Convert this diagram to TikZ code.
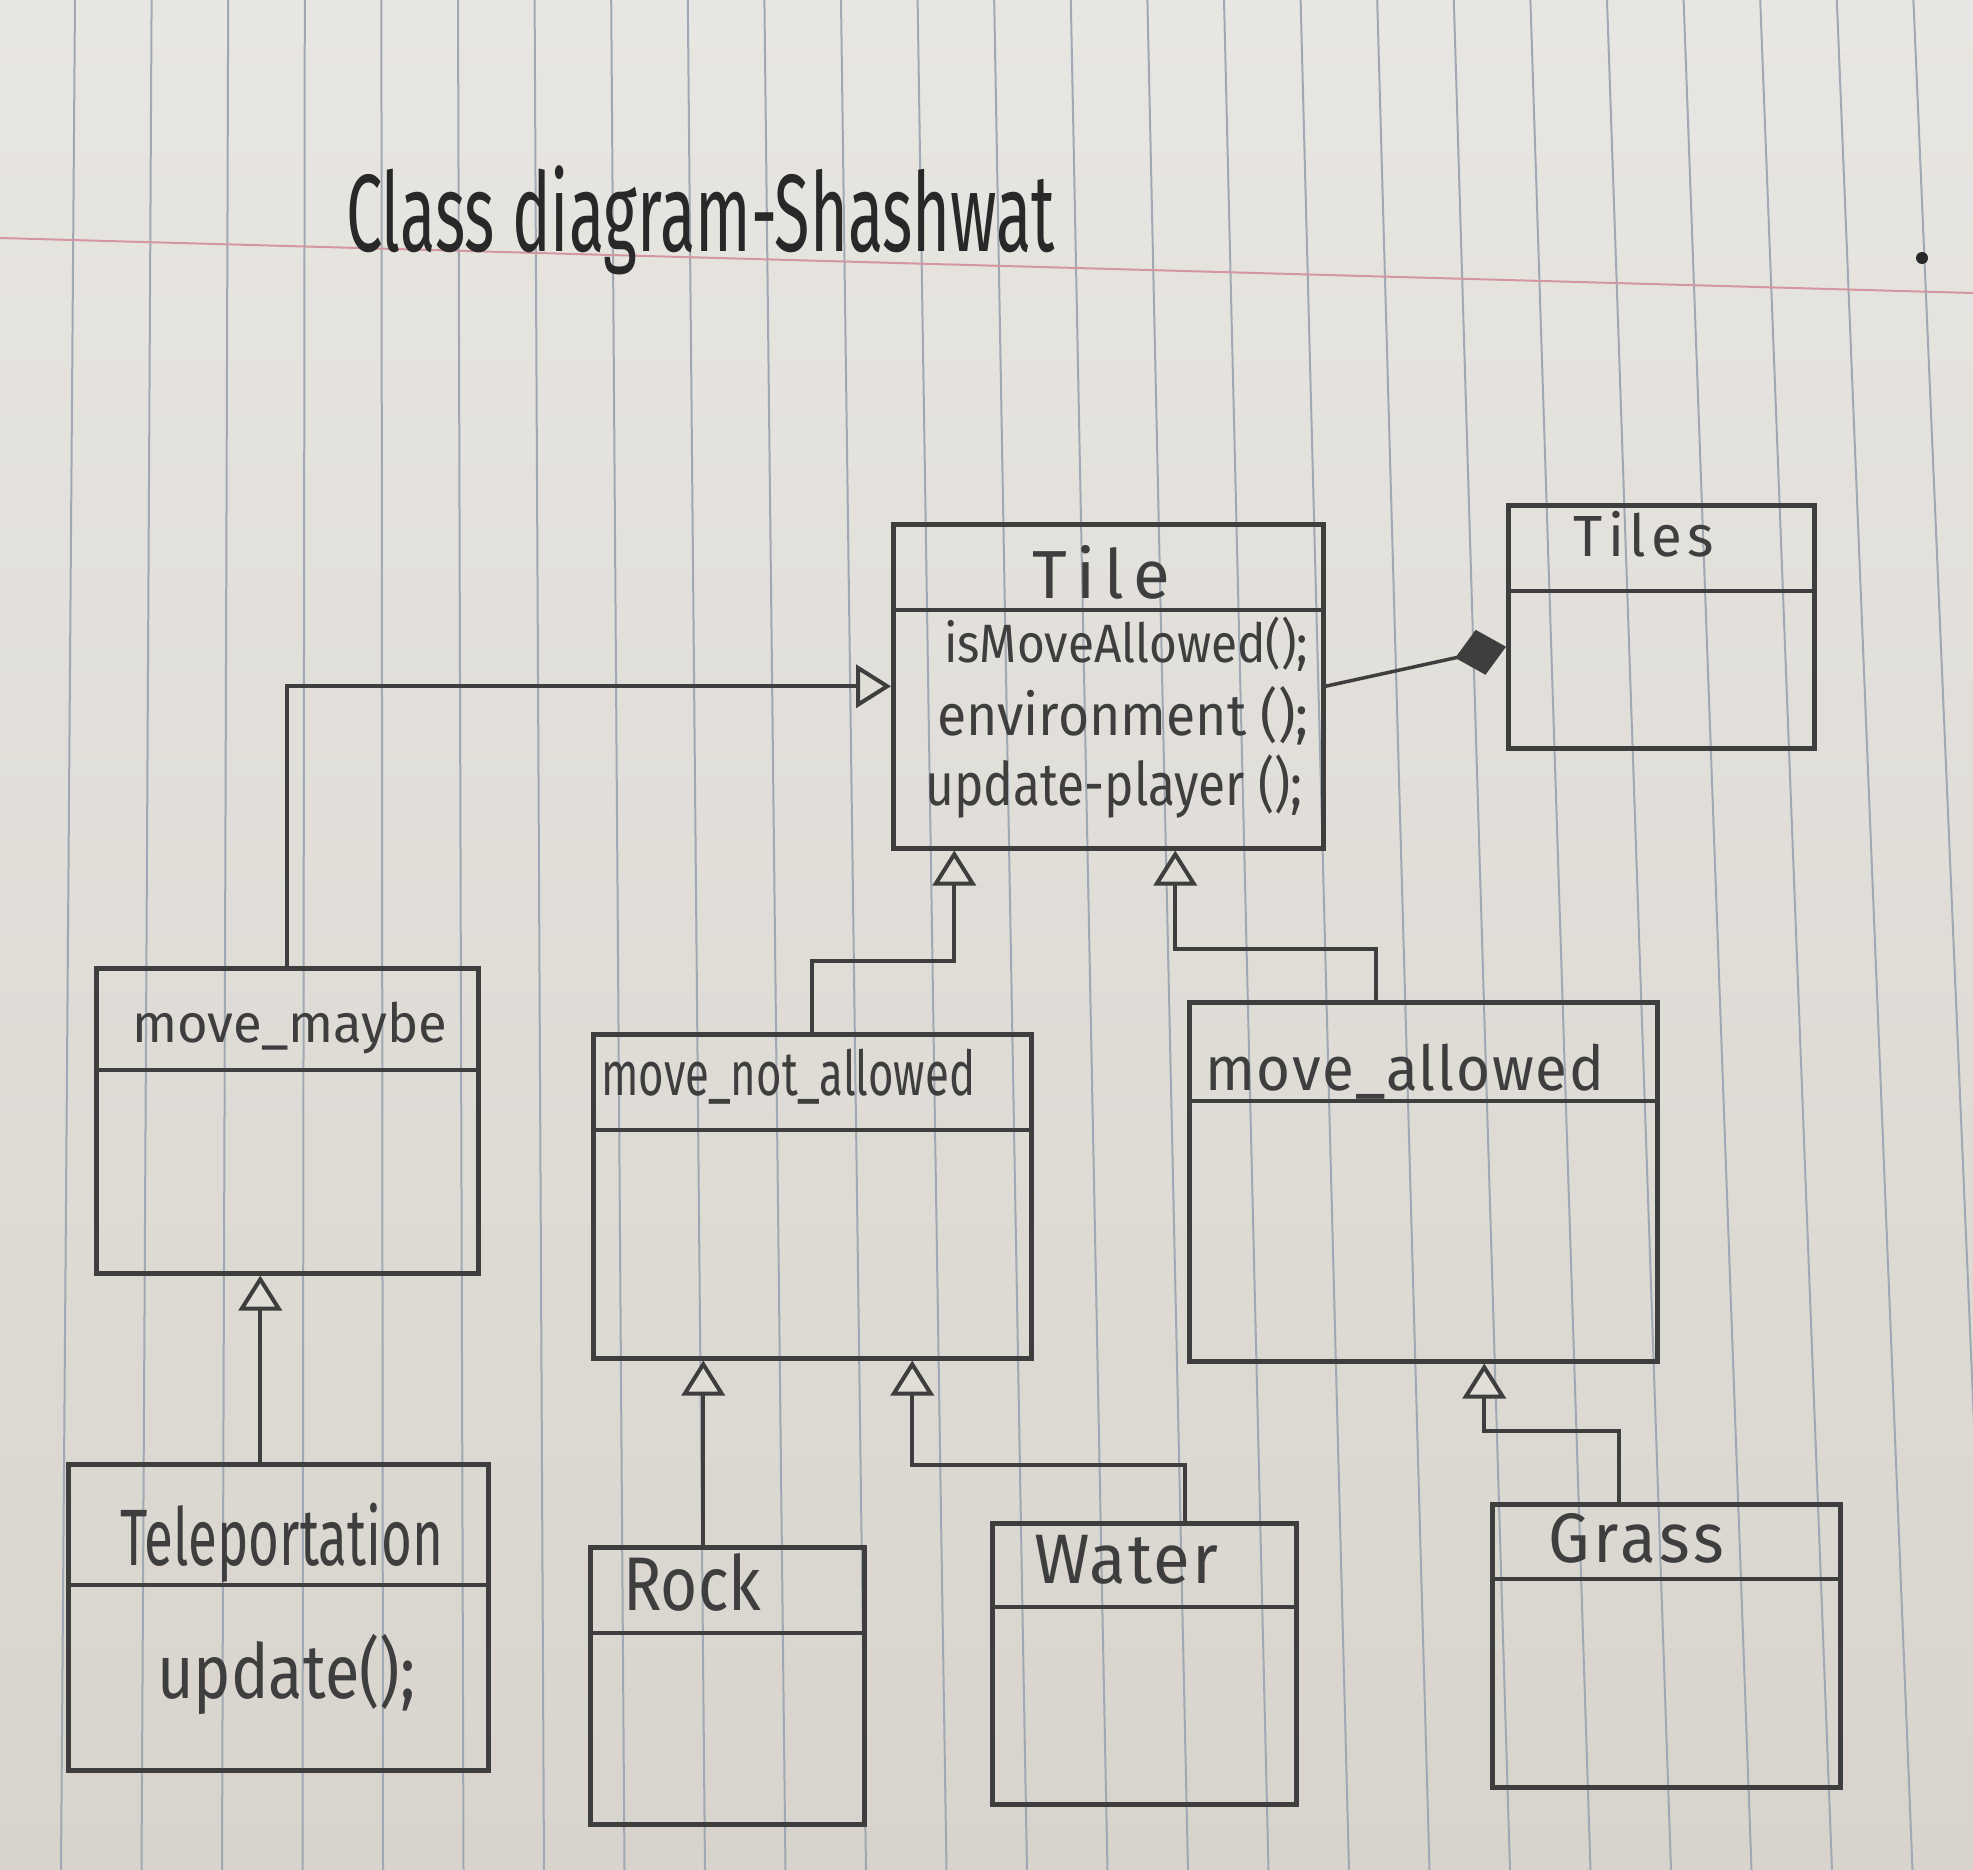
\documentclass[tikz,border=0pt]{standalone}
\usepackage{fontspec}
\setmainfont{Fira Sans}
\usetikzlibrary{arrows.meta}
\definecolor{papertop}{RGB}{232,230,226}
\definecolor{paperbot}{RGB}{216,212,205}
\definecolor{paper}{RGB}{225,222,216}
\definecolor{rulecol}{RGB}{160,168,180}
\definecolor{margincol}{RGB}{212,150,160}
\definecolor{ink}{RGB}{62,62,62}
\definecolor{darkink}{RGB}{40,40,40}
% handwritten-looking label: [letter spacing] size, target width, text
\newcommand{\hand}[4][0]{\fontsize{#2}{#2}\selectfont
  \addfontfeature{LetterSpace=#1}\resizebox{#3}{\height}{#4}}
% class box: name, x, y (top left), width, height, depth of the divider
\newcommand{\umlclass}[6]{%
  \node[box, minimum width=#4pt, minimum height=#5pt] (#1) at (#2,#3) {};
  \draw[div] ([yshift=-#6pt]#1.north west) -- ([yshift=-#6pt]#1.north east);}
\begin{document}
\begin{tikzpicture}[x=1pt,y=-1pt,
  box/.style={draw=ink, line width=4.5pt, rectangle, inner sep=0pt, anchor=north west},
  div/.style={draw=ink, line width=4.5pt},
  lbl/.style={inner sep=0pt, anchor=base west, text=ink},
  inh/.style={draw=ink, line width=4pt, -{Triangle[length=35pt, width=43pt, fill=paper]}},
  comp/.style={draw=ink, line width=3.5pt, -{Diamond[length=52pt, width=46pt, fill=ink]}}]

% ruled paper
\shade[top color=papertop, bottom color=paperbot] (0,0) rectangle (1973,1870);
\useasboundingbox (0,0) rectangle (1973,1870);
\begin{scope}
  \clip (0,0) rectangle (1973,1870);
  \foreach \k in {-1,0,...,25}
    \draw[rulecol, line width=2pt] ({75+76.6*\k},0) -- ({61+80.5*\k},1870);
  \draw[margincol, line width=2pt] (0,238) -- (1973,293);
\end{scope}
\fill[darkink] (1922,258) circle (6pt);

% heading
\node[lbl, text=darkink] (title) at (346,252) {\hand{110}{709pt}{Class diagram-Shashwat}};

% classes
\umlclass{tile}{891}{522}{430}{324}{88}
\umlclass{tiles}{1506}{503}{306}{243}{88}
\umlclass{mm}{94}{966}{382}{305}{104}
\umlclass{mna}{591}{1032}{438}{324}{98}
\umlclass{ma}{1187}{1000}{468}{359}{101}
\umlclass{tel}{66}{1462}{420}{306}{123}
\umlclass{rock}{588}{1545}{274}{277}{88}
\umlclass{water}{990}{1521}{304}{281}{86}
\umlclass{grass}{1490}{1502}{348}{283}{77}

% class names and operations
\node[lbl] (tileName) at (1032,598) {\hand[14]{68}{138pt}{Tile}};
\node[lbl] (tilesName) at (1573,556) {\hand[10]{58}{141pt}{Tiles}};
\node[lbl] (op1) at (944,662) {\hand{54}{364pt}{isMoveAllowed();}};
\node[lbl] (op2) at (937,735) {\hand{58}{371pt}{environment ();}};
\node[lbl] (op3) at (925,805) {\hand{60}{377pt}{update-player ();}};
\node[lbl] (mmName) at (132,1042) {\hand{54}{315pt}{move\_maybe}};
\node[lbl] (mnaName) at (601,1095) {\hand{62}{374pt}{move\_not\_allowed}};
\node[lbl] (maName) at (1205,1090) {\hand[3]{62}{399pt}{move\_allowed}};
\node[lbl] (telName) at (120,1565) {\hand{80}{323pt}{Teleportation}};
\node[lbl] (telOp) at (157,1698) {\hand{76}{258pt}{update();}};
\node[lbl] (rockName) at (623,1610) {\hand{76}{138pt}{Rock}};
\node[lbl] (waterName) at (1034,1583) {\hand[3]{70}{184pt}{Water}};
\node[lbl] (grassName) at (1548,1562) {\hand[6]{70}{176pt}{Grass}};

% generalisations
\draw[inh] (mm.north) |- (tile.west);
\draw[inh] (mna.north) |- ([xshift=-154pt,yshift=-110pt]tile.south) -- ([xshift=-154pt]tile.south);
\draw[inh] ([xshift=-47pt]ma.north) |- ([xshift=67pt,yshift=-98pt]tile.south) -- ([xshift=67pt]tile.south);
\draw[inh] ([xshift=-18pt]tel.north) -- ([xshift=-18pt]tel.north |- mm.south);
\draw[inh] ([xshift=-24pt]rock.north) -- ([xshift=-24pt]rock.north |- mna.south);
\draw[inh] ([xshift=41pt]water.north) |- ([xshift=100pt,yshift=-104pt]mna.south) -- ([xshift=100pt]mna.south);
\draw[inh] ([xshift=-47pt]grass.north) |- ([xshift=61pt,yshift=-67pt]ma.south) -- ([xshift=61pt]ma.south);

% composition
\draw[comp] (tile.east) -- ([yshift=-20pt]tiles.west);
\end{tikzpicture}
\end{document}
